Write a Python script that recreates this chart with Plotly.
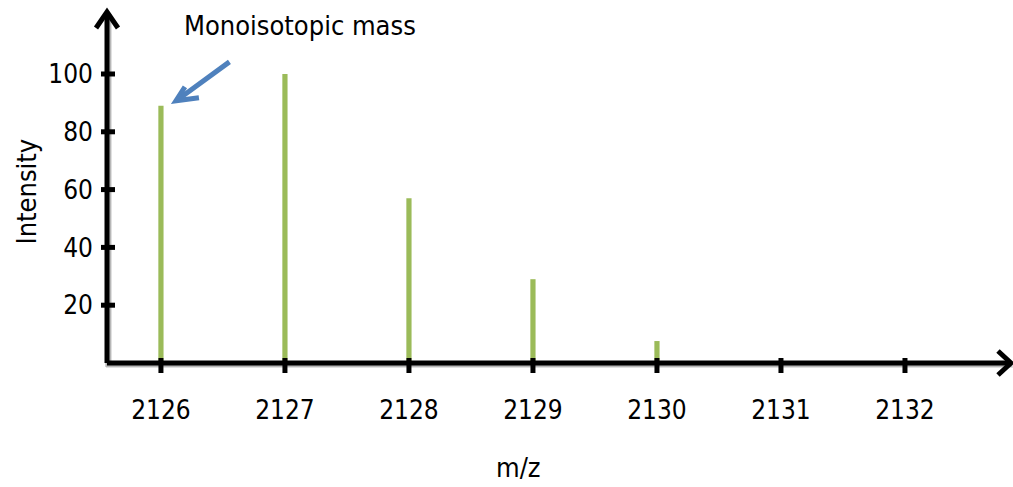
import plotly.graph_objects as go

# Isotope envelope of the peptide ion
mz = [2126, 2127, 2128, 2129, 2130]
intensity = [89, 100, 57, 29, 7.6]

x_ticks = [2126, 2127, 2128, 2129, 2130, 2131, 2132]
y_ticks = [20, 40, 60, 80, 100]

X_MIN, X_MAX = 2125.565, 2132.855
Y_MIN, Y_MAX = 0, 121.45

FONT = "Liberation Sans Narrow, DejaVu Sans Condensed, Arial Narrow, sans-serif"
BAR_GREEN = "#9BBB59"
ARROW_BLUE = "#4F81BD"
INK = "black"


def to_paper_x(v):
    return (v - X_MIN) / (X_MAX - X_MIN)


def to_paper_y(v):
    return (v - Y_MIN) / (Y_MAX - Y_MIN)


def pixel_path(px, py, path, color, width=5):
    """Path given in pixel offsets around an anchor in paper coordinates."""
    return dict(type="path", xref="paper", yref="paper", xsizemode="pixel", ysizemode="pixel",
                xanchor=px, yanchor=py, path=path,
                line=dict(color=color, width=width), layer="above")


fig = go.Figure()

# Peaks
fig.add_trace(go.Bar(
    x=mz, y=intensity, width=0.042,
    marker=dict(color=BAR_GREEN, line=dict(width=0)),
    hoverinfo="skip",
))

shapes = []
# soft drop shadow under the axes
for dx, dy, op in [(2, -2, 0.12), (1, -1, 0.18)]:
    shapes.append(pixel_path(0, 0, f"M {dx},{351 + dy} L {dx},{dy} L {904 + dx},{dy}",
                             f"rgba(0,0,0,{op})", width=6))
# axis lines
shapes.append(dict(type="line", xref="paper", yref="paper", x0=0, y0=0, x1=1, y1=0,
                   line=dict(color=INK, width=5), layer="above"))
shapes.append(dict(type="line", xref="paper", yref="paper", x0=0, y0=0, x1=0, y1=1,
                   line=dict(color=INK, width=5), layer="above"))
# open chevron heads at the axis ends
shapes.append(pixel_path(1, 0, "M -13,12 L 0,0 L -13,-12", INK))
shapes.append(pixel_path(0, 1, "M -11,-16 L 0,0 L 11,-16", INK))
# tick marks crossing the axes
for v in x_ticks:
    shapes.append(pixel_path(to_paper_x(v), 0, "M 0,5 L 0,-10", INK))
for v in y_ticks:
    shapes.append(pixel_path(0, to_paper_y(v), "M -6,0 L 8,0", INK))
# chevron of the callout arrow pointing at the monoisotopic peak
shapes.append(pixel_path(to_paper_x(mz[0]), to_paper_y(intensity[0]),
                         "M 24,19 L 15,5 L 38,8", ARROW_BLUE))

annotations = [
    dict(text="Monoisotopic mass", xref="paper", yref="paper", x=0, y=1,
         xshift=75, yshift=-13, xanchor="left", yanchor="middle", showarrow=False,
         font=dict(family=FONT, size=27, color=INK)),
    # callout arrow shaft
    dict(text="", xref="x", yref="y", x=mz[0], y=intensity[0], xshift=18, yshift=7,
         ax=52, ay=-38, showarrow=True, arrowhead=0, arrowwidth=5, arrowcolor=ARROW_BLUE),
    dict(text="m/z", xref="paper", yref="paper", x=0, y=0, xshift=411, yshift=-104,
         xanchor="center", yanchor="middle", showarrow=False,
         font=dict(family=FONT, size=27, color=INK)),
    dict(text="Intensity", xref="paper", yref="paper", x=0, y=0.5, xshift=-81, yshift=-4,
         textangle=-90, xanchor="center", yanchor="middle", showarrow=False,
         font=dict(family=FONT, size=27, color=INK)),
]

fig.update_layout(
    width=1013, height=487,
    margin=dict(l=107, r=2, t=12, b=124),
    paper_bgcolor="white", plot_bgcolor="white",
    showlegend=False,
    shapes=shapes, annotations=annotations,
    xaxis=dict(range=[X_MIN, X_MAX], tickvals=x_ticks, ticktext=[str(v) for v in x_ticks],
               showgrid=False, zeroline=False, showline=False, ticks="",
               ticklabelstandoff=29, tickfont=dict(family=FONT, size=26, color=INK)),
    yaxis=dict(range=[Y_MIN, Y_MAX], tickvals=y_ticks, ticktext=[str(v) for v in y_ticks],
               showgrid=False, zeroline=False, showline=False, ticks="",
               ticklabelstandoff=13, tickfont=dict(family=FONT, size=26, color=INK)),
)

fig.write_html("out.html")
